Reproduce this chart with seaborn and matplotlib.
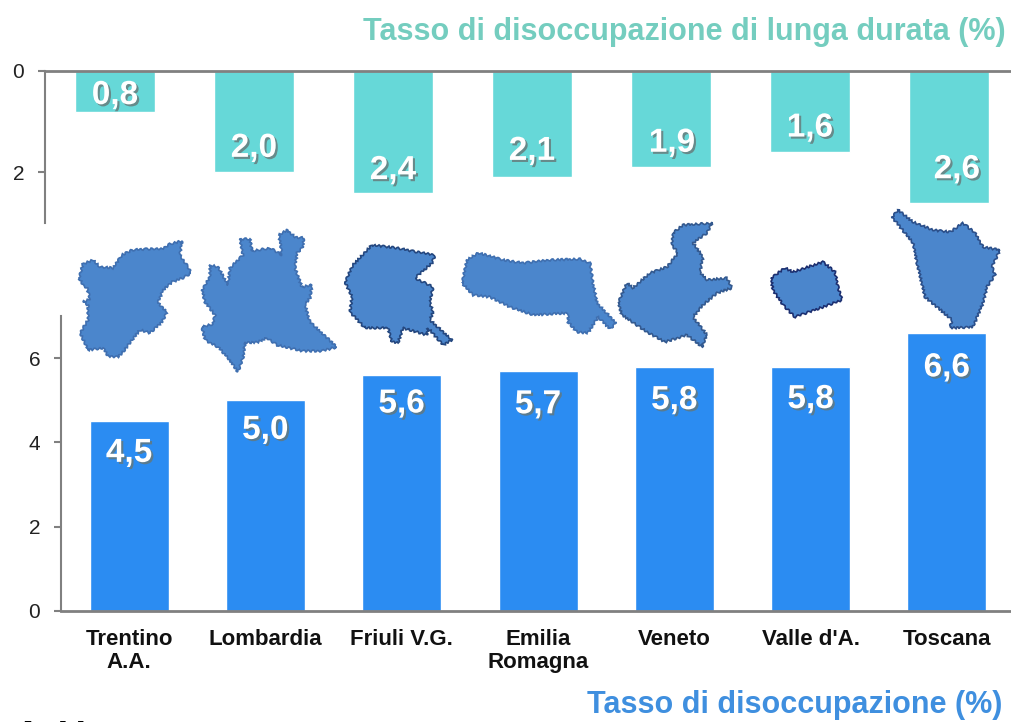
import matplotlib
matplotlib.use("Agg")
import matplotlib.pyplot as plt
import matplotlib.patheffects as pe
from matplotlib.patches import Polygon
import seaborn as sns
import pandas as pd

regions = ["Trentino\nA.A.", "Lombardia", "Friuli V.G.", "Emilia\nRomagna", "Veneto", "Valle d'A.", "Toscana"]
long_term = [0.8, 2.0, 2.4, 2.1, 1.9, 1.6, 2.6]
unemployment = [4.5, 5.0, 5.6, 5.7, 5.8, 5.8, 6.6]
top_ticks = [0, 2]
bottom_ticks = [0, 2, 4, 6]
top_title = "Tasso di disoccupazione di lunga durata (%)"
bottom_title = "Tasso di disoccupazione (%)"
cut_text = "A  Veneto"

# region outlines, in image pixels
trentino = [(79,278),(83,264),(93,260),(100,267),(113,268),(122,255),(132,250),(147,249),(162,249),(170,244),(182,241),(180,255),(188,267),(191,273),(183,278),(172,282),(163,290),(158,303),(167,312),(162,322),(150,333),(140,330),(132,340),(123,352),(118,357),(108,356),(103,348),(88,350),(80,333),(88,320),(88,305),(83,302),(90,299),(87,288),(83,285)]
lombardia = [(202,290),(210,277),(210,265),(218,267),(228,285),(230,268),(243,255),(240,239),(250,239),(252,251),(270,248),(282,255),(279,235),(287,230),(295,237),(304,238),(303,247),(297,253),(295,268),(302,287),(312,285),(310,298),(305,305),(310,322),(337,347),(322,351),(302,351),(277,345),(267,338),(258,342),(245,343),(243,358),(238,372),(228,358),(218,347),(205,340),(202,327),(213,324),(215,315),(205,302)]
friuli = [(345,282),(353,265),(372,245),(397,248),(417,252),(435,255),(432,263),(415,278),(433,287),(430,303),(433,312),(430,320),(452,340),(443,345),(428,328),(427,335),(403,328),(398,343),(392,342),(388,328),(365,328),(350,312),(352,297)]
emilia = [(462,283),(467,260),(478,253),(490,256),(503,260),(523,263),(550,260),(580,259),(590,263),(593,283),(597,303),(616,323),(610,329),(598,317),(588,333),(577,332),(568,322),(568,313),(533,315),(510,307),(490,297),(473,295)]
veneto = [(618,303),(627,283),(633,288),(650,273),(667,267),(678,253),(672,245),(673,233),(683,225),(712,223),(707,233),(693,243),(703,257),(700,272),(707,280),(727,278),(732,288),(717,293),(703,305),(693,317),(707,335),(702,347),(687,335),(665,342),(647,332),(622,315)]
valle = [(771,278),(785,268),(793,272),(823,262),(835,272),(838,287),(842,300),(823,307),(795,317),(783,305),(773,290)]
toscana = [(892,217),(898,210),(913,222),(933,230),(950,232),(963,223),(975,233),(983,247),(1000,250),(992,267),(995,275),(987,287),(983,303),(973,327),(950,328),(952,320),(937,307),(925,297),(917,263),(913,243)]

W, H = 1011, 722
TEAL = "#66D8D8"
BLUE = "#2B8CF2"
GREY = "#808080"

sns.set_theme(style="white")
plt.rcParams["font.family"] = ["Liberation Sans", "DejaVu Sans"]


def box(left, top, right, bottom):
    return [left / W, 1 - bottom / H, (right - left) / W, (bottom - top) / H]


def value_labels(ax, values, offsets, size):
    # offsets are measured from the bar end, in pixels
    for i, (v, off) in enumerate(zip(values, offsets)):
        ax.annotate(f"{v:.1f}".replace(".", ","), (i, v), xytext=(off[0], off[1]),
                    textcoords="offset pixels", ha="center", va="center",
                    color="white", fontsize=size, fontweight="bold",
                    path_effects=[pe.withSimplePatchShadow(offset=(1.5, -1.5), shadow_rgbFace="#667777", alpha=0.8)])


fig = plt.figure(figsize=(W / 100, H / 100), dpi=100)

# long term unemployment, hanging from the top
ax_top = fig.add_axes(box(45, 71, 1011, 223))
df_top = pd.DataFrame({"region": regions, "value": long_term})
sns.barplot(data=df_top, x="region", y="value", color=TEAL, saturation=1, width=0.57, ax=ax_top)
ax_top.set_xlim(-0.504, 6.446)
ax_top.set_ylim(3, 0)
ax_top.set_yticks(top_ticks)
ax_top.set_xticks([])
ax_top.set_xlabel("")
ax_top.set_ylabel("")
ax_top.tick_params(axis="y", left=True, length=5, width=1.5, color=GREY, labelsize=15, pad=10, labelcolor="#222222")
sns.despine(ax=ax_top, top=False, bottom=True, right=True)
ax_top.spines["top"].set_color(GREY)
ax_top.spines["top"].set_linewidth(2)
ax_top.spines["left"].set_color(GREY)
ax_top.spines["left"].set_linewidth(1.5)
value_labels(ax_top, long_term, [(0, 16), (0, 24), (0, 22), (0, 26), (1, 24), (0, 24), (8, 33)], 24)

# total unemployment
ax_bottom = fig.add_axes(box(61, 316, 1011, 611))
df_bottom = pd.DataFrame({"region": regions, "value": unemployment})
sns.barplot(data=df_bottom, x="region", y="value", color=BLUE, saturation=1, width=0.58, ax=ax_bottom)
ax_bottom.set_xlim(-0.5, 6.47)
ax_bottom.set_ylim(0, 7)
ax_bottom.set_yticks(bottom_ticks)
ax_bottom.set_xlabel("")
ax_bottom.set_ylabel("")
ax_bottom.tick_params(axis="y", left=True, length=5, width=1.5, color=GREY, labelsize=15, pad=10, labelcolor="#222222")
ax_bottom.tick_params(axis="x", bottom=False, labelsize=16, pad=7, labelcolor="#111111")
for lab in ax_bottom.get_xticklabels():
    lab.set_fontweight("bold")
    lab.set_linespacing(1.15)
sns.despine(ax=ax_bottom)
ax_bottom.spines["bottom"].set_color(GREY)
ax_bottom.spines["bottom"].set_linewidth(2)
ax_bottom.spines["left"].set_color(GREY)
ax_bottom.spines["left"].set_linewidth(1.5)
value_labels(ax_bottom, unemployment, [(0, -32), (0, -30), (0, -29), (0, -34), (0, -34), (0, -33), (0, -35)], 24)

# map shapes sit on a full figure overlay in pixel coordinates
overlay = fig.add_axes([0, 0, 1, 1], zorder=5)
overlay.set_xlim(0, W)
overlay.set_ylim(H, 0)
overlay.axis("off")
for shape, edge in [(trentino, "#3F6FB0"), (lombardia, "#3F6FB0"), (friuli, "#24477F"), (emilia, "#3F6FB0"),
                    (veneto, "#33598F"), (valle, "#1C2F70"), (toscana, "#2B4F8A")]:
    poly = Polygon(shape, closed=True, facecolor="#4B86CC", edgecolor=edge, linewidth=1.2)
    poly.set_sketch_params(scale=1.0, length=5, randomness=2)
    overlay.add_patch(poly)

fig.text(1006 / W, 1 - 32 / H, top_title, color="#74CDBF", fontsize=22, fontweight="bold", ha="right", va="center")
fig.text(1002 / W, 1 - 705 / H, bottom_title, color="#3F8FDF", fontsize=22, fontweight="bold", ha="right", va="center")
fig.text(15 / W, 1 - 747 / H, cut_text, color="black", fontsize=26, fontweight="bold", ha="left", va="baseline")

fig.savefig("out.png", dpi=100)
